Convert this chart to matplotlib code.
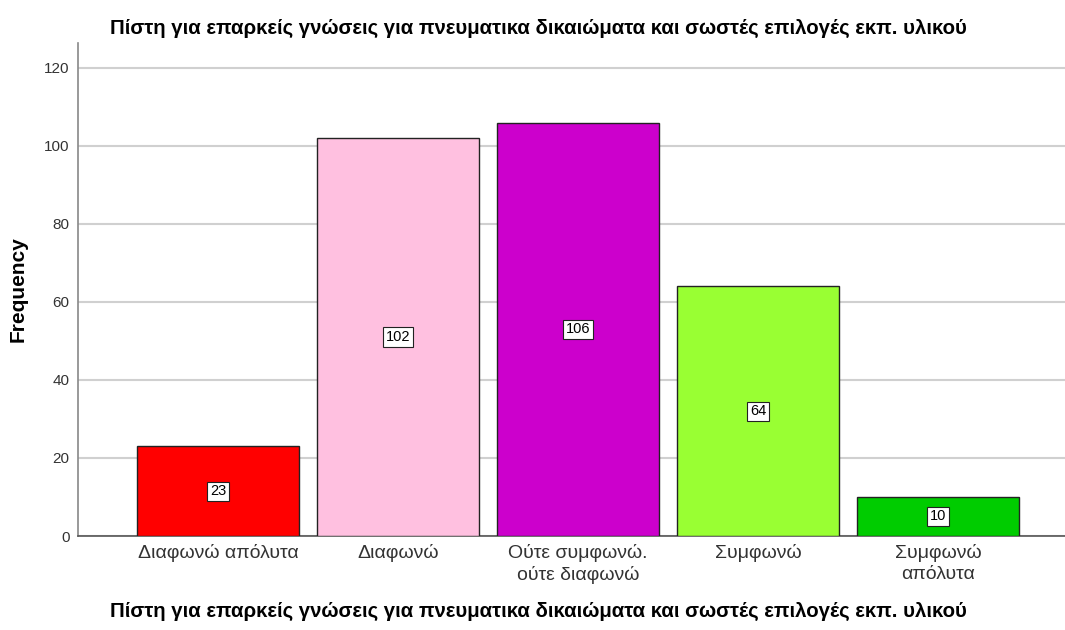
import matplotlib

matplotlib.use("Agg")
import matplotlib.pyplot as plt

plt.rcParams["font.family"] = ["Liberation Sans", "DejaVu Sans"]

TITLE = "Πίστη για επαρκείς γνώσεις για πνευματικα δικαιώματα και σωστές επιλογές εκπ. υλικού"
categories = [
    "Διαφωνώ απόλυτα",
    "Διαφωνώ",
    "Ούτε συμφωνώ.\nούτε διαφωνώ",
    "Συμφωνώ",
    "Συμφωνώ\nαπόλυτα",
]
counts = [23, 102, 106, 64, 10]
colors = ["#ff0000", "#ffc0e0", "#cc00cc", "#99ff33", "#00cc00"]
yticks = [0, 20, 40, 60, 80, 100, 120]

fig = plt.figure(figsize=(10.65, 6.3), dpi=100)
ax = fig.add_axes([78 / 1065, 1 - 536 / 630, 1 - 78 / 1065, (536 - 43) / 630])

x = list(range(len(categories)))
ax.bar(x, counts, width=0.9, color=colors, edgecolor="#222222", linewidth=1.0, zorder=3)

for xi, c in zip(x, counts):
    ax.text(xi, c / 2, str(c), ha="center", va="center", fontsize=10.5, zorder=4,
            bbox=dict(boxstyle="square,pad=0.18", fc="white", ec="#222222", lw=0.8))

ax.set_xlim(-0.778, 4.706)
ax.set_ylim(0, 126.4)
ax.set_yticks(yticks)
ax.set_xticks(x)
ax.set_xticklabels(categories, fontsize=14, color="#333333", linespacing=1.25)
ax.tick_params(axis="x", length=0, pad=6)
ax.tick_params(axis="y", length=0, pad=6, labelsize=11, labelcolor="#333333")
ax.grid(axis="y", color="#d0d0d0", lw=1.5, zorder=0)

for s in ["top", "right"]:
    ax.spines[s].set_visible(False)
ax.spines["left"].set_color("#888888")
ax.spines["left"].set_linewidth(1.2)
ax.spines["bottom"].set_color("#555555")
ax.spines["bottom"].set_linewidth(1.2)

ax.set_ylabel("Frequency", fontsize=15, fontweight="bold", labelpad=12)
fig.text(0.506, 0.955, TITLE, ha="center", va="center", fontsize=14.7, fontweight="bold")
fig.text(0.506, 0.03, TITLE, ha="center", va="center", fontsize=14.7, fontweight="bold")

fig.savefig("out.png", dpi=100)
